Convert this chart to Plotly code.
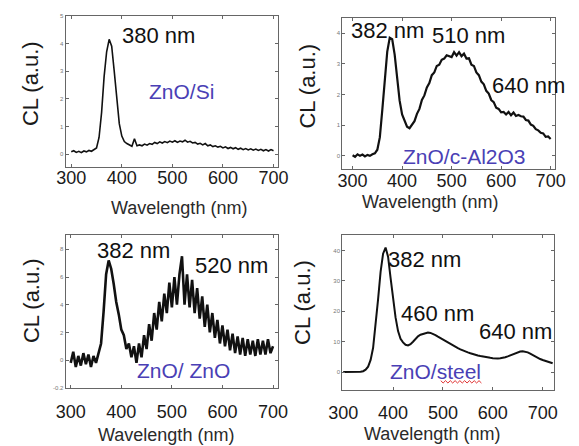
import plotly.graph_objects as go

W, H = 579, 446

# ---------------- data ----------------
wl_a = list(range(300, 705, 5))  # 81 wavelengths, 5 nm step
wl_steel = list(range(300, 725, 5))  # 85 wavelengths

cl_si = [0.08, 0.12, 0.06, 0.10, 0.05, 0.11, 0.08, 0.13, 0.10, 0.15,
         0.22, 0.60, 1.50, 2.80, 3.70, 4.15, 3.90, 3.00, 1.90, 1.10,
         0.65, 0.45, 0.38, 0.32, 0.28, 0.55, 0.30, 0.33, 0.30, 0.36,
         0.32, 0.38, 0.35, 0.42, 0.38, 0.44, 0.40, 0.45, 0.41, 0.47,
         0.43, 0.48, 0.42, 0.47, 0.44, 0.50, 0.43, 0.46, 0.40, 0.42,
         0.36, 0.39, 0.33, 0.38, 0.30, 0.33, 0.27, 0.30, 0.25, 0.28,
         0.22, 0.26, 0.20, 0.24, 0.19, 0.23, 0.17, 0.21, 0.16, 0.20,
         0.15, 0.19, 0.14, 0.18, 0.13, 0.17, 0.12, 0.16, 0.11, 0.16,
         0.12]

cl_al2o3 = [0.02, -0.03, 0.05, 0.00, 0.04, -0.02, 0.03, 0.00, 0.05, 0.08,
            0.20, 0.60, 1.50, 2.60, 3.40, 3.85, 3.80, 3.30, 2.50, 1.80,
            1.35, 1.12, 0.95, 0.90, 1.02, 1.13, 1.37, 1.53, 1.82, 1.97,
            2.23, 2.37, 2.63, 2.72, 2.93, 2.97, 3.13, 3.17, 3.28, 3.26,
            3.22, 3.38, 3.27, 3.38, 3.25, 3.33, 3.17, 3.18, 2.97, 2.93,
            2.72, 2.63, 2.42, 2.33, 2.12, 2.03, 1.82, 1.75, 1.57, 1.53,
            1.42, 1.43, 1.35, 1.43, 1.32, 1.41, 1.30, 1.33, 1.29, 1.28,
            1.17, 1.15, 1.02, 0.98, 0.87, 0.83, 0.75, 0.73, 0.62, 0.63,
            0.55]

cl_zno = [-0.02, 0.06, -0.05, 0.03, -0.04, 0.05, -0.03, 0.04, -0.05, 0.03,
          -0.02, 0.05, 0.12, 0.35, 0.62, 0.72, 0.66, 0.55, 0.42, 0.33,
          0.22, 0.18, 0.08, 0.12, 0.02, 0.10, -0.02, 0.12, 0.02, 0.18,
          0.08, 0.26, 0.14, 0.34, 0.22, 0.42, 0.28, 0.48, 0.34, 0.56,
          0.38, 0.60, 0.40, 0.62, 0.75, 0.40, 0.62, 0.38, 0.58, 0.34,
          0.52, 0.30, 0.46, 0.24, 0.40, 0.20, 0.34, 0.16, 0.29, 0.12,
          0.25, 0.10, 0.22, 0.07, 0.19, 0.05, 0.17, 0.04, 0.16, 0.03,
          0.15, 0.04, 0.14, 0.03, 0.15, 0.04, 0.14, 0.04, 0.15, 0.05,
          0.10]

cl_steel = [0, 0, 0, 0, 0, 0, 0, 0.1, 0.3, 0.8,
            1.8, 4.0, 8.0, 15.0, 24.0, 33.0, 39.0, 41.0, 38.0, 31.0,
            24.0, 18.0, 13.5, 11.0, 9.8, 9.0, 8.8, 9.2, 10.0, 11.0,
            11.8, 12.3, 12.6, 12.9, 13.0, 12.9, 12.6, 12.2, 11.7, 11.2,
            10.7, 10.2, 9.7, 9.2, 8.7, 8.3, 7.9, 7.5, 7.1, 6.8,
            6.5, 6.2, 5.9, 5.7, 5.5, 5.3, 5.1, 4.9, 4.8, 4.7,
            4.6, 4.5, 4.5, 4.6, 4.7, 4.9, 5.2, 5.5, 5.9, 6.3,
            6.6, 6.8, 6.9, 6.8, 6.5, 6.1, 5.6, 5.1, 4.7, 4.3,
            4.0, 3.7, 3.4, 3.1, 2.9]

x_ticks = [300, 400, 500, 600, 700]
y_ticks_si = [0, 1, 2, 3, 4, 5]
y_ticks_al = [0, 1, 2, 3, 4]
y_ticks_zno = [-0.2, 0, 0.2, 0.4, 0.6, 0.8]
y_ticklabels_zno = ["-0.2", "0", "2", "4", "6", "8"]
y_ticks_steel = [0, 10, 20, 30, 40]

samples = ["ZnO/Si", "ZnO/c-Al2O3", "ZnO/ ZnO", "ZnO/steel"]

# ---------------- figure ----------------
fig = go.Figure()

series = [(wl_a, cl_si, 1.6), (wl_a, cl_al2o3, 2.2), (wl_a, cl_zno, 2.6), (wl_steel, cl_steel, 2.0)]
for i, (xs, ys, lw) in enumerate(series):
    sfx = "" if i == 0 else str(i + 1)
    fig.add_trace(go.Scatter(x=xs, y=ys, mode="lines", xaxis="x" + sfx, yaxis="y" + sfx,
                             line=dict(color="#111111", width=lw), showlegend=False,
                             hoverinfo="skip"))

def px_x(p):
    return p / W

def px_y(p):
    return 1 - p / H

# panel boxes in pixels: (left, right, top, bottom)
boxes = [(54, 276, 13, 166), (343, 565, 15, 168), (54, 276, 235, 390), (343, 564, 235, 392)]
xranges = [[289, 709], [279, 708], [290, 710], [298, 722]]
yranges = [[-0.46, 5.0], [-0.42, 4.5], [-0.2, 0.905], [-5.8, 45.2]]
ytv = [y_ticks_si, y_ticks_al, y_ticks_zno, y_ticks_steel]
ytt = [[str(v) for v in y_ticks_si], [str(v) for v in y_ticks_al], y_ticklabels_zno,
       [str(v) for v in y_ticks_steel]]
standoffs = [-5, -4, 8, 7]

for i, (l, r, t, b) in enumerate(boxes):
    sfx = "" if i == 0 else str(i + 1)
    fig.layout["xaxis" + sfx] = dict(
        domain=[px_x(l), px_x(r)], anchor="y" + sfx, range=xranges[i],
        tickvals=x_ticks, ticks="inside", ticklen=3, tickcolor="#666",
        showline=True, linecolor="#666", linewidth=1, mirror="ticks",
        showgrid=False, zeroline=False,
        tickfont=dict(family="Liberation Sans, Arial", size=18, color="#1a1a1a"),
        ticklabelstandoff=standoffs[i])
    fig.layout["yaxis" + sfx] = dict(
        domain=[px_y(b), px_y(t)], anchor="x" + sfx, range=yranges[i],
        tickvals=ytv[i], ticktext=ytt[i], ticks="inside", ticklen=3, tickcolor="#666",
        showline=True, linecolor="#666", linewidth=1, mirror="ticks",
        showgrid=False, zeroline=False,
        tickfont=dict(family="Liberation Sans, Arial", size=6, color="#777"))

annots = []
def add_text(txt, cx, cy, size, color="#111111", angle=0):
    annots.append(dict(text=txt, x=px_x(cx), y=px_y(cy), xref="paper", yref="paper",
                       xanchor="center", yanchor="middle", showarrow=False, textangle=angle,
                       font=dict(family="Liberation Sans, Arial", size=size, color=color)))

# axis titles
for cx, cy in [(172, 208), (435, 202), (159, 438), (437, 437)]:
    add_text("Wavelength (nm)", cx, cy, 18, "#2a2a2a")
for cx, cy in [(18, 82), (307, 84), (19, 302), (302, 303)]:
    add_text("CL (a.u.)", cx, cy, 22, "#1a1a1a", -90)

# peak labels
peaks = [("380 nm", 151, 33), ("382 nm", 390, 28), ("510 nm", 475, 33), ("640 nm", 538, 84),
         ("382 nm", 125, 251), ("520 nm", 227, 266),
         ("382 nm", 429, 260), ("460 nm", 443, 315), ("640 nm", 524, 333)]
for txt, cx, cy in peaks:
    add_text(txt, cx, cy, 22)

# sample names
blue = "#4a3fb5"
for txt, (cx, cy) in zip(samples, [(175, 90), (471, 156), (177, 373), (441, 374)]):
    add_text(txt, cx, cy, 21, blue)

# red spell-check squiggle under "steel"
x0, x1, yb = 446, 489, 384
pts = []
k = 0
xx = x0
while xx <= x1:
    pts.append((xx, yb + (1.2 if k % 2 else -1.2)))
    xx += 2.5
    k += 1
path = "M " + " L ".join(f"{px_x(a):.5f},{px_y(b):.5f}" for a, b in pts)
fig.add_shape(type="path", path=path, xref="paper", yref="paper",
              line=dict(color="#e03030", width=1))

fig.update_layout(width=W, height=H, margin=dict(l=0, r=0, t=0, b=0),
                  paper_bgcolor="white", plot_bgcolor="white", annotations=annots)

fig.write_html("out.html", config={"displayModeBar": False},
               post_script="document.body.style.margin='0';document.body.style.overflow='hidden';")
